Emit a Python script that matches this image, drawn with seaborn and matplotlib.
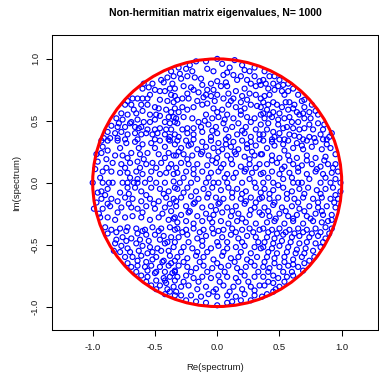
import numpy as np
import pandas as pd
import matplotlib
matplotlib.use("Agg")
import matplotlib.pyplot as plt
from matplotlib.patches import Circle
import seaborn as sns

# ---- data: eigenvalues (Re, Im), grouped by region ----
pts_upper_left = [
    (-0.37,0.90),(-0.35,0.86),(-0.40,0.85),(-0.43,0.81),(-0.36,0.80),(-0.38,0.76),(-0.34,0.76),
    (-0.59,0.80),(-0.55,0.77),(-0.50,0.75),(-0.46,0.74),(-0.42,0.74),(-0.37,0.71),(-0.34,0.70),
    (-0.60,0.76),(-0.54,0.71),(-0.56,0.68),(-0.60,0.68),(-0.68,0.68),(-0.64,0.68),(-0.72,0.66),
    (-0.46,0.67),(-0.40,0.66),(-0.35,0.65),(-0.34,0.60),
    (-0.74,0.63),(-0.69,0.63),(-0.61,0.63),(-0.56,0.63),(-0.50,0.61),(-0.47,0.60),(-0.41,0.59),(-0.37,0.57),
    (-0.77,0.56),(-0.72,0.55),(-0.65,0.56),(-0.60,0.58),(-0.54,0.55),(-0.49,0.55),(-0.46,0.54),(-0.39,0.53),(-0.35,0.53),
    (-0.81,0.52),(-0.76,0.51),(-0.69,0.49),(-0.64,0.51),(-0.59,0.49),(-0.54,0.49),(-0.50,0.51),(-0.42,0.49),(-0.38,0.48),(-0.34,0.49),
    (-0.85,0.46),(-0.80,0.45),(-0.74,0.45),(-0.70,0.48),(-0.66,0.45),(-0.61,0.45),(-0.56,0.43),(-0.50,0.43),(-0.46,0.44),(-0.41,0.43),(-0.37,0.43),
    (-0.88,0.41),(-0.82,0.40),(-0.77,0.41),(-0.72,0.39),(-0.66,0.40),(-0.61,0.39),(-0.57,0.40),(-0.52,0.39),(-0.48,0.40),(-0.42,0.39),(-0.38,0.37),(-0.34,0.39),
    (-0.91,0.36),(-0.86,0.36),(-0.80,0.36),(-0.74,0.35),(-0.64,0.35),(-0.50,0.35),(-0.39,0.35),
    (-0.52,0.80),(-0.67,0.59),(-0.79,0.48),(-0.45,0.83),(-0.30,0.88),(-0.63,0.44),
]

pts_upper_mid = [
    (0.00,1.00),(0.14,0.99),(-0.17,0.98),(-0.09,0.98),(0.04,0.96),(0.20,0.95),(0.30,0.93),(0.26,0.90),(-0.31,0.93),(-0.25,0.92),
    (-0.24,0.86),(-0.29,0.84),(-0.18,0.85),(-0.13,0.84),(-0.08,0.92),(-0.03,0.90),(0.05,0.87),(0.08,0.89),(0.13,0.87),(0.19,0.86),(0.16,0.83),(0.30,0.86),(0.34,0.82),
    (0.00,0.82),(-0.05,0.80),(-0.12,0.79),(-0.21,0.77),(-0.27,0.78),(-0.19,0.75),(-0.15,0.73),(-0.08,0.75),(-0.03,0.75),(0.03,0.78),(0.08,0.78),(0.09,0.72),(0.15,0.74),(0.22,0.76),(0.27,0.80),(0.31,0.78),(0.35,0.79),
    (-0.32,0.67),(-0.28,0.68),(-0.23,0.68),(-0.16,0.66),(-0.09,0.71),(-0.05,0.70),(0.00,0.71),(0.05,0.68),(0.13,0.68),(0.19,0.65),(0.26,0.72),(0.31,0.71),(0.35,0.68),
    (-0.31,0.57),(-0.24,0.59),(-0.19,0.61),(-0.12,0.63),(-0.08,0.64),(-0.03,0.60),(0.04,0.59),(0.09,0.63),(0.15,0.61),(0.22,0.60),(0.27,0.63),(0.32,0.62),
    (-0.27,0.53),(-0.20,0.52),(-0.15,0.49),(-0.09,0.55),(-0.04,0.52),(0.01,0.53),(0.08,0.55),(0.13,0.52),(0.19,0.55),(0.24,0.53),(0.30,0.52),(0.35,0.55),
    (-0.32,0.48),(-0.24,0.44),(-0.13,0.45),(-0.07,0.47),(-0.01,0.45),(0.05,0.48),(0.12,0.45),(0.17,0.48),(0.23,0.45),(0.31,0.43),(0.35,0.47),
    (-0.31,0.37),(-0.24,0.40),(-0.19,0.39),(-0.12,0.41),(-0.05,0.37),(0.00,0.40),(0.07,0.43),(0.09,0.37),(0.16,0.39),(0.22,0.40),(0.27,0.37),(0.34,0.39),
    (-0.22,0.95),(0.10,0.93),(-0.20,0.90),(0.22,0.91),(0.07,0.81),(0.24,0.83),
    (-0.24,0.72),(-0.11,0.69),(0.20,0.70),(-0.02,0.66),(0.11,0.66),(0.24,0.67),
    (-0.28,0.61),(0.00,0.57),(0.19,0.58),(0.35,0.61),(-0.33,0.52),(-0.10,0.50),(0.06,0.51),(0.27,0.49),
    (-0.28,0.43),(-0.19,0.44),(-0.04,0.42),(0.20,0.42),
]

pts_upper_right = [
    (0.38,0.90),(0.42,0.86),(0.46,0.86),(0.37,0.83),(0.39,0.80),(0.45,0.80),(0.49,0.78),(0.53,0.79),(0.57,0.80),(0.61,0.76),
    (0.52,0.74),(0.46,0.75),(0.42,0.71),(0.38,0.70),(0.37,0.65),(0.45,0.65),(0.54,0.71),(0.58,0.65),(0.65,0.71),(0.68,0.66),
    (0.62,0.63),(0.52,0.61),(0.48,0.63),(0.40,0.59),(0.37,0.56),(0.45,0.57),(0.50,0.56),(0.57,0.59),(0.61,0.60),(0.64,0.57),
    (0.69,0.56),(0.76,0.63),(0.74,0.57),(0.70,0.52),(0.65,0.49),(0.60,0.49),(0.54,0.52),(0.49,0.51),(0.44,0.53),(0.38,0.52),
    (0.41,0.48),(0.49,0.47),(0.56,0.45),(0.61,0.44),(0.66,0.43),(0.74,0.47),(0.81,0.48),(0.77,0.43),(0.85,0.43),(0.83,0.39),
    (0.74,0.37),(0.66,0.37),(0.58,0.39),(0.50,0.40),(0.45,0.41),(0.40,0.43),(0.37,0.39),(0.44,0.35),(0.54,0.35),(0.88,0.35),
    (0.92,0.40),(0.69,0.35),(0.81,0.55),
    (0.50,0.83),(0.57,0.74),(0.41,0.76),(0.70,0.61),(0.79,0.58),(0.41,0.63),(0.55,0.65),(0.66,0.55),(0.42,0.55),
    (0.58,0.53),(0.75,0.52),(0.86,0.47),(0.90,0.37),(0.78,0.36),(0.70,0.44),(0.53,0.44),(0.46,0.37),(0.62,0.38),(0.70,0.67),
]

pts_mid_left = [
    (-0.93,0.34),(-0.88,0.34),(-0.80,0.34),(-0.73,0.32),(-0.66,0.33),(-0.60,0.31),(-0.53,0.32),(-0.46,0.34),(-0.38,0.34),(-0.34,0.31),
    (-0.97,0.23),(-0.93,0.24),(-0.88,0.26),(-0.82,0.22),(-0.76,0.22),(-0.69,0.24),(-0.62,0.23),(-0.56,0.24),(-0.47,0.23),(-0.39,0.24),(-0.35,0.22),
    (-0.96,0.17),(-0.89,0.19),(-0.84,0.16),(-0.77,0.15),(-0.70,0.16),(-0.64,0.17),(-0.57,0.15),(-0.52,0.16),(-0.45,0.16),(-0.37,0.15),
    (-0.98,0.11),(-0.92,0.09),(-0.85,0.09),(-0.78,0.08),(-0.72,0.08),(-0.65,0.09),(-0.60,0.07),(-0.53,0.09),(-0.46,0.07),(-0.41,0.08),(-0.35,0.07),
    (-1.00,0.00),(-0.92,0.00),(-0.87,0.00),(-0.84,0.00),(-0.76,0.00),(-0.72,0.00),(-0.67,0.00),(-0.64,0.00),(-0.58,0.00),(-0.49,0.00),(-0.42,0.00),
    (-0.94,0.04),(-0.70,0.04),(-0.64,0.03),(-0.54,0.03),(-0.35,0.01),
    (-0.93,-0.07),(-0.88,-0.05),(-0.96,-0.08),(-0.78,-0.08),(-0.72,-0.04),(-0.66,-0.04),(-0.61,-0.07),(-0.53,-0.04),(-0.46,-0.05),(-0.39,-0.07),(-0.34,-0.04),
    (-0.93,-0.13),(-0.85,-0.13),(-0.80,-0.15),(-0.74,-0.12),(-0.68,-0.13),(-0.61,-0.15),(-0.54,-0.13),(-0.47,-0.15),(-0.41,-0.12),(-0.35,-0.13),
    (-0.99,-0.21),(-0.92,-0.21),(-0.86,-0.19),(-0.77,-0.20),(-0.69,-0.20),(-0.64,-0.21),(-0.57,-0.19),(-0.50,-0.21),(-0.42,-0.20),(-0.37,-0.23),
    (-0.94,-0.28),(-0.88,-0.28),(-0.82,-0.30),(-0.74,-0.28),(-0.68,-0.27),(-0.61,-0.28),(-0.54,-0.30),(-0.47,-0.28),(-0.39,-0.30),(-0.34,-0.28),
    (-0.92,0.29),(-0.78,0.28),(-0.63,0.28),(-0.50,0.28),(-0.42,0.29),(-0.72,0.20),(-0.59,0.19),(-0.42,0.20),
    (-0.89,0.12),(-0.74,0.12),(-0.62,0.12),(-0.49,0.12),(-0.39,0.12),
    (-0.90,-0.10),(-0.71,-0.09),(-0.57,-0.10),(-0.43,-0.09),
    (-0.97,-0.16),(-0.88,-0.17),(-0.71,-0.17),(-0.51,-0.17),(-0.38,-0.17),
    (-0.95,-0.25),(-0.80,-0.24),(-0.60,-0.24),(-0.44,-0.25),
]

pts_center = [
    (-0.32,0.34),(-0.25,0.34),(-0.19,0.35),(-0.12,0.33),(-0.05,0.34),(0.01,0.32),(0.07,0.35),(0.13,0.33),(0.20,0.34),(0.27,0.33),(0.34,0.35),
    (-0.29,0.28),(-0.23,0.30),(-0.16,0.27),(-0.09,0.29),(-0.03,0.28),(0.04,0.27),(0.11,0.29),(0.17,0.27),(0.24,0.28),(0.31,0.30),
    (-0.33,0.22),(-0.27,0.23),(-0.20,0.22),(-0.13,0.23),(-0.07,0.22),(0.00,0.20),(0.08,0.22),(0.15,0.23),(0.22,0.21),(0.30,0.22),(0.35,0.23),
    (-0.29,0.16),(-0.23,0.15),(-0.16,0.15),(-0.08,0.14),(-0.01,0.16),(0.05,0.15),(0.12,0.15),(0.19,0.13),(0.26,0.15),(0.34,0.15),
    (-0.32,0.08),(-0.25,0.09),(-0.19,0.07),(-0.12,0.09),(-0.05,0.08),(0.01,0.09),(0.08,0.07),(0.15,0.08),(0.22,0.09),(0.28,0.08),(0.35,0.07),
    (-0.30,0.00),(-0.21,0.00),(-0.09,0.00),(-0.03,0.00),(0.01,0.00),(0.08,0.00),(0.20,0.00),(0.30,0.00),
    (-0.16,0.03),(0.13,0.04),(0.26,0.03),(-0.27,0.04),
    (-0.32,-0.05),(-0.24,-0.04),(-0.17,-0.07),(-0.11,-0.05),(-0.04,-0.04),(0.03,-0.06),(0.09,-0.04),(0.16,-0.05),(0.23,-0.07),(0.31,-0.04),
    (-0.29,-0.12),(-0.21,-0.11),(-0.15,-0.13),(-0.08,-0.12),(-0.01,-0.12),(0.05,-0.13),(0.12,-0.12),(0.19,-0.13),(0.27,-0.12),(0.34,-0.13),
    (-0.33,-0.19),(-0.25,-0.19),(-0.19,-0.17),(-0.12,-0.20),(-0.05,-0.19),(0.01,-0.17),(0.08,-0.20),(0.15,-0.19),(0.22,-0.17),(0.30,-0.20),
    (-0.29,-0.26),(-0.23,-0.24),(-0.16,-0.27),(-0.09,-0.25),(-0.03,-0.26),(0.04,-0.24),(0.11,-0.27),(0.17,-0.25),(0.26,-0.26),(0.34,-0.24),
    (-0.32,-0.32),(-0.25,-0.31),(-0.19,-0.33),(-0.12,-0.31),(-0.04,-0.32),(0.03,-0.31),(0.09,-0.33),(0.16,-0.31),(0.23,-0.32),(0.31,-0.33),
    (-0.21,0.31),(0.07,0.31),(0.24,0.31),(-0.31,0.25),(-0.12,0.25),(0.01,0.25),(0.14,0.25),(0.28,0.25),
    (-0.24,0.19),(-0.04,0.18),(0.11,0.19),(0.26,0.19),(-0.33,0.12),(-0.19,0.11),(0.03,0.12),(0.23,0.11),(0.31,0.12),
    (-0.07,0.04),(0.06,0.04),
    (-0.27,-0.08),(-0.07,-0.09),(0.12,-0.08),(0.20,-0.09),(0.35,-0.08),
    (-0.33,-0.15),(-0.18,-0.16),(0.02,-0.16),(0.23,-0.15),(0.31,-0.16),
    (-0.22,-0.23),(-0.01,-0.22),(0.12,-0.23),(0.27,-0.22),(-0.35,-0.29),(-0.06,-0.29),(0.20,-0.29),
]

pts_mid_right = [
    (0.37,0.34),(0.44,0.33),(0.50,0.35),(0.57,0.34),(0.64,0.32),(0.72,0.34),(0.79,0.33),(0.85,0.35),
    (0.40,0.28),(0.46,0.30),(0.54,0.26),(0.61,0.28),(0.69,0.27),(0.76,0.29),(0.84,0.27),(0.91,0.28),
    (0.36,0.23),(0.44,0.22),(0.50,0.20),(0.57,0.22),(0.64,0.20),(0.72,0.22),(0.79,0.20),(0.87,0.21),(0.95,0.23),
    (0.40,0.15),(0.48,0.16),(0.54,0.13),(0.61,0.15),(0.68,0.14),(0.76,0.15),(0.83,0.13),(0.89,0.15),(0.95,0.15),
    (0.37,0.08),(0.44,0.09),(0.50,0.07),(0.58,0.08),(0.65,0.09),(0.72,0.07),(0.79,0.09),(0.85,0.07),(0.92,0.08),(0.97,0.09),
    (0.37,0.00),(0.45,0.00),(0.61,0.00),(0.65,0.00),(0.68,0.00),(0.83,0.00),(0.91,0.00),(0.99,0.00),
    (0.53,0.03),(0.74,0.03),(0.49,-0.02),
    (0.38,-0.05),(0.45,-0.06),(0.53,-0.04),(0.60,-0.07),(0.66,-0.05),(0.73,-0.04),(0.80,-0.06),(0.87,-0.05),(0.93,-0.04),(0.99,-0.07),
    (0.36,-0.12),(0.42,-0.13),(0.49,-0.12),(0.56,-0.13),(0.62,-0.13),(0.69,-0.12),(0.77,-0.13),(0.84,-0.12),(0.91,-0.13),(0.97,-0.13),
    (0.38,-0.20),(0.45,-0.18),(0.52,-0.20),(0.60,-0.19),(0.66,-0.21),(0.74,-0.19),(0.81,-0.20),(0.88,-0.19),(0.95,-0.20),
    (0.36,-0.26),(0.42,-0.27),(0.50,-0.25),(0.57,-0.27),(0.64,-0.26),(0.72,-0.27),(0.79,-0.25),(0.85,-0.26),(0.92,-0.26),
    (0.40,-0.32),(0.46,-0.31),(0.54,-0.33),(0.61,-0.31),(0.69,-0.33),(0.77,-0.31),(0.84,-0.32),(0.89,-0.31),
    (0.53,0.31),(0.68,0.30),(0.88,0.31),(0.44,0.18),(0.58,0.18),(0.72,0.18),(0.86,0.18),
    (0.52,0.11),(0.65,0.12),(0.80,0.11),(0.93,0.12),(0.41,0.04),(0.60,0.04),(0.87,0.04),(0.95,0.03),
    (0.42,-0.09),(0.56,-0.09),(0.70,-0.09),(0.83,-0.09),(0.95,-0.10),
    (0.46,-0.16),(0.65,-0.16),(0.81,-0.16),(0.94,-0.16),
    (0.41,-0.23),(0.55,-0.23),(0.70,-0.23),(0.84,-0.23),
    (0.47,-0.29),(0.61,-0.29),(0.75,-0.29),(0.92,-0.30),
]

pts_lower_left = [
    (-0.90,-0.36),(-0.85,-0.38),(-0.78,-0.37),(-0.72,-0.36),(-0.65,-0.37),(-0.58,-0.38),(-0.52,-0.36),(-0.45,-0.37),(-0.38,-0.36),(-0.34,-0.38),
    (-0.88,-0.41),(-0.81,-0.40),(-0.76,-0.44),(-0.69,-0.45),(-0.64,-0.41),(-0.57,-0.42),(-0.50,-0.42),(-0.43,-0.43),(-0.37,-0.44),
    (-0.82,-0.49),(-0.77,-0.51),(-0.72,-0.53),(-0.65,-0.49),(-0.60,-0.51),(-0.54,-0.52),(-0.48,-0.53),(-0.42,-0.49),(-0.35,-0.52),
    (-0.78,-0.56),(-0.74,-0.60),(-0.68,-0.60),(-0.61,-0.59),(-0.56,-0.57),(-0.49,-0.60),(-0.43,-0.63),(-0.38,-0.59),(-0.34,-0.63),
    (-0.69,-0.68),(-0.64,-0.67),(-0.58,-0.68),(-0.53,-0.67),(-0.46,-0.68),(-0.39,-0.67),(-0.34,-0.71),
    (-0.61,-0.75),(-0.56,-0.76),(-0.50,-0.73),(-0.43,-0.77),(-0.38,-0.76),(-0.34,-0.79),
    (-0.53,-0.83),(-0.46,-0.83),(-0.41,-0.81),(-0.35,-0.84),
    (-0.42,-0.90),(-0.38,-0.88),(-0.34,-0.91),
    (-0.81,-0.46),(-0.73,-0.47),(-0.62,-0.46),(-0.55,-0.47),(-0.46,-0.46),(-0.40,-0.48),
    (-0.83,-0.55),(-0.70,-0.56),(-0.63,-0.55),(-0.52,-0.56),(-0.45,-0.55),(-0.39,-0.55),
    (-0.72,-0.65),(-0.64,-0.63),(-0.57,-0.64),(-0.52,-0.62),(-0.44,-0.64),(-0.37,-0.65),
    (-0.65,-0.72),(-0.56,-0.71),(-0.49,-0.72),(-0.42,-0.72),(-0.36,-0.73),
    (-0.57,-0.80),(-0.49,-0.79),(-0.42,-0.79),(-0.49,-0.86),(-0.40,-0.86),
    (-0.73,-0.39),(-0.60,-0.39),(-0.47,-0.39),
]

pts_lower_mid = [
    (-0.32,-0.37),(-0.25,-0.38),(-0.19,-0.37),(-0.11,-0.38),(-0.04,-0.37),(0.05,-0.38),(0.12,-0.37),(0.20,-0.38),(0.26,-0.37),(0.34,-0.38),
    (-0.31,-0.44),(-0.24,-0.42),(-0.16,-0.45),(-0.09,-0.43),(-0.03,-0.41),(0.04,-0.44),(0.11,-0.42),(0.17,-0.45),(0.24,-0.43),(0.31,-0.44),
    (-0.27,-0.52),(-0.20,-0.53),(-0.12,-0.51),(-0.05,-0.53),(0.01,-0.51),(0.08,-0.53),(0.15,-0.52),(0.22,-0.51),(0.30,-0.52),(0.35,-0.53),
    (-0.32,-0.60),(-0.24,-0.61),(-0.17,-0.59),(-0.11,-0.60),(-0.03,-0.62),(0.04,-0.59),(0.11,-0.61),(0.17,-0.60),(0.24,-0.62),(0.32,-0.60),
    (-0.31,-0.67),(-0.24,-0.68),(-0.17,-0.69),(-0.11,-0.67),(-0.04,-0.69),(0.03,-0.68),(0.09,-0.67),(0.16,-0.69),(0.23,-0.68),(0.30,-0.67),
    (-0.32,-0.76),(-0.25,-0.75),(-0.19,-0.77),(-0.12,-0.76),(-0.05,-0.77),(0.01,-0.75),(0.08,-0.76),(0.15,-0.77),(0.22,-0.75),(0.30,-0.76),
    (-0.29,-0.84),(-0.23,-0.83),(-0.16,-0.86),(-0.09,-0.84),(-0.01,-0.86),(0.05,-0.83),(0.13,-0.84),(0.20,-0.86),(0.27,-0.84),(0.34,-0.83),
    (-0.29,-0.91),(-0.21,-0.91),(-0.13,-0.92),(-0.07,-0.90),(0.00,-0.92),(0.08,-0.91),(0.15,-0.92),(0.22,-0.90),(0.30,-0.91),
    (-0.09,-0.97),(0.00,-0.99),(0.08,-0.97),(0.19,-0.95),
    (-0.28,-0.40),(-0.14,-0.40),(0.01,-0.39),(0.15,-0.40),(0.29,-0.40),
    (-0.34,-0.48),(-0.23,-0.48),(-0.12,-0.47),(0.00,-0.48),(0.08,-0.48),(0.20,-0.48),(0.33,-0.48),
    (-0.29,-0.56),(-0.16,-0.56),(-0.08,-0.56),(0.05,-0.56),(0.19,-0.56),(0.27,-0.57),
    (-0.27,-0.64),(-0.14,-0.64),(0.00,-0.65),(0.14,-0.64),(0.27,-0.64),
    (-0.34,-0.72),(-0.21,-0.72),(-0.08,-0.72),(0.06,-0.72),(0.19,-0.72),(0.33,-0.72),
    (-0.27,-0.80),(-0.15,-0.80),(0.02,-0.80),(0.17,-0.80),(0.25,-0.80),
    (-0.33,-0.88),(-0.03,-0.88),(0.10,-0.88),(0.30,-0.87),
    (-0.25,-0.95),(-0.17,-0.96),(0.12,-0.96),(0.27,-0.95),
]

pts_lower_right = [
    (0.37,-0.37),(0.44,-0.38),(0.50,-0.37),(0.58,-0.38),(0.65,-0.37),(0.72,-0.38),(0.79,-0.37),(0.87,-0.36),(0.92,-0.37),
    (0.40,-0.44),(0.46,-0.45),(0.53,-0.42),(0.60,-0.44),(0.66,-0.43),(0.74,-0.44),(0.81,-0.43),(0.87,-0.45),
    (0.37,-0.52),(0.44,-0.53),(0.50,-0.51),(0.57,-0.52),(0.64,-0.54),(0.71,-0.53),(0.77,-0.55),(0.83,-0.52),
    (0.40,-0.60),(0.46,-0.61),(0.54,-0.60),(0.61,-0.62),(0.68,-0.60),(0.74,-0.63),
    (0.37,-0.68),(0.42,-0.69),(0.50,-0.68),(0.57,-0.67),(0.65,-0.68),(0.69,-0.71),
    (0.37,-0.76),(0.45,-0.75),(0.49,-0.77),(0.56,-0.76),(0.61,-0.75),
    (0.38,-0.83),(0.45,-0.81),(0.50,-0.84),(0.54,-0.80),
    (0.40,-0.90),(0.45,-0.88),
    (0.41,-0.40),(0.48,-0.41),(0.55,-0.40),(0.62,-0.41),(0.69,-0.40),(0.76,-0.41),(0.83,-0.40),(0.90,-0.41),
    (0.38,-0.48),(0.45,-0.49),(0.52,-0.47),(0.59,-0.48),(0.66,-0.49),(0.72,-0.48),(0.79,-0.49),(0.85,-0.48),
    (0.41,-0.56),(0.48,-0.57),(0.56,-0.56),(0.63,-0.57),(0.70,-0.57),(0.78,-0.60),
    (0.38,-0.64),(0.46,-0.65),(0.54,-0.64),(0.61,-0.66),(0.70,-0.65),
    (0.41,-0.72),(0.53,-0.72),(0.60,-0.72),(0.41,-0.80),(0.47,-0.86),(0.36,-0.92),
]

title = "Non-hermitian matrix eigenvalues, N= 1000"
x_label = "Re(spectrum)"
y_label = "Im(spectrum)"
tick_values = [-1.0, -0.5, 0.0, 0.5, 1.0]
tick_labels = ["-1.0", "-0.5", "0.0", "0.5", "1.0"]

regions = [pts_upper_left, pts_upper_mid, pts_upper_right,
           pts_mid_left, pts_center, pts_mid_right,
           pts_lower_left, pts_lower_mid, pts_lower_right]
all_pts = [p for r in regions for p in r]
df = pd.DataFrame(all_pts, columns=["re", "im"])

sns.set_theme(style="white")
plt.rcParams["font.family"] = ["Liberation Sans", "DejaVu Sans"]

fig = plt.figure(figsize=(3.79, 3.75), dpi=100)
ax = fig.add_axes([52.3 / 379, 44.7 / 375, 325.7 / 379, 295.3 / 375])

sns.scatterplot(data=df, x="re", y="im", ax=ax, marker="o", s=13,
                facecolor="none", edgecolor="#0000FF", linewidth=0.85,
                legend=False, zorder=2)
ax.add_patch(Circle((0, 0), 1.0, fill=False, edgecolor="#FF0000",
                    linewidth=2.2, zorder=3))

ax.set_xlim(-1.3245, 1.2915)
ax.set_ylim(-1.192, 1.193)
ax.set_xticks(tick_values)
ax.set_xticklabels(tick_labels)
ax.set_yticks(tick_values)
ax.set_yticklabels(tick_labels, rotation=90, va="center")

for sp in ax.spines.values():
    sp.set_visible(True)
    sp.set_color("black")
    sp.set_linewidth(0.75)

ax.tick_params(axis="both", direction="out", length=4, width=0.75,
               color="black", labelsize=6.8, pad=4.8, labelcolor="#1a1a1a")
ax.tick_params(axis="x", bottom=True)
ax.tick_params(axis="y", left=True)

ax.set_xlabel(x_label, fontsize=6.8, labelpad=8.5, color="#1a1a1a")
ax.set_ylabel(y_label, fontsize=6.8, labelpad=7.5, color="#1a1a1a")
ax.set_title(title, fontsize=7.5, fontweight="bold", pad=13.7, color="black")

fig.savefig("out.png", dpi=100)
